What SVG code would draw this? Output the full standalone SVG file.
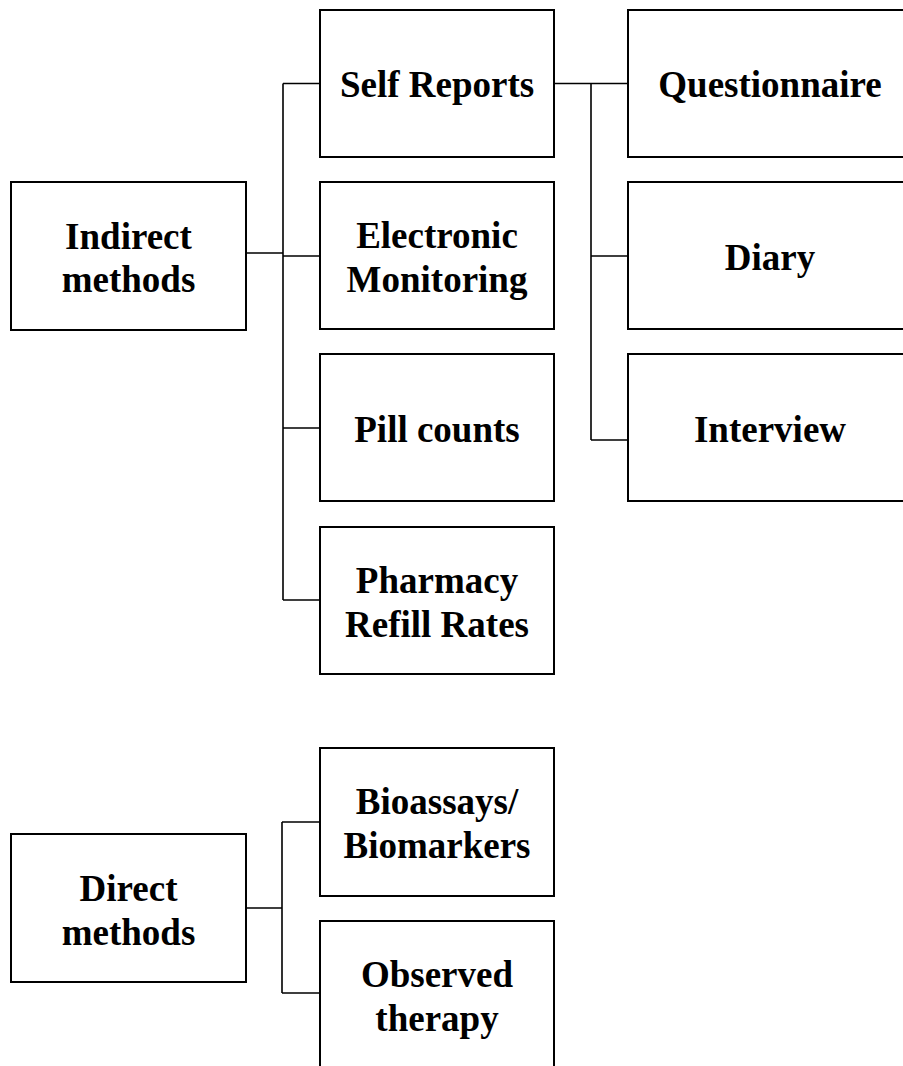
<svg xmlns="http://www.w3.org/2000/svg" width="903" height="1066" viewBox="0 0 903 1066">
<style>
.box{fill:#fff;stroke:#000;stroke-width:2}
.t{font-family:"Liberation Serif","Times New Roman",serif;font-weight:bold;font-size:37px;fill:#000;text-anchor:middle}
.c{fill:none;stroke:#000;stroke-width:1.6}
</style>
<rect width="903" height="1066" fill="#fff"/>
<g id="connectors">
<path class="c" d="M246 253H283M283 83.5V600M283 83.5H320M283 256H320M283 428H320M283 600H320"/>
<path class="c" d="M554 83.5H628M591 83.5V440M591 256H628M591 440H628"/>
<path class="c" d="M246 908H282M282 822V993M282 822H320M282 993H320"/>
</g>
<g id="indirect"><rect class="box" x="11" y="182" width="235" height="148"/><text class="t" x="128.5" y="249">Indirect</text><text class="t" x="128.5" y="292">methods</text></g>
<g id="self-reports"><rect class="box" x="320" y="10" width="234" height="147"/><text class="t" x="437" y="97">Self Reports</text></g>
<g id="electronic"><rect class="box" x="320" y="182" width="234" height="147"/><text class="t" x="437" y="248">Electronic</text><text class="t" x="437" y="292">Monitoring</text></g>
<g id="pill"><rect class="box" x="320" y="354" width="234" height="147"/><text class="t" x="437" y="442">Pill counts</text></g>
<g id="pharmacy"><rect class="box" x="320" y="527" width="234" height="147"/><text class="t" x="437" y="593">Pharmacy</text><text class="t" x="437" y="637">Refill Rates</text></g>
<g id="questionnaire"><rect class="box" x="628" y="10" width="284" height="147"/><text class="t" x="770" y="97">Questionnaire</text></g>
<g id="diary"><rect class="box" x="628" y="182" width="284" height="147"/><text class="t" x="770" y="270">Diary</text></g>
<g id="interview"><rect class="box" x="628" y="354" width="284" height="147"/><text class="t" x="770" y="442">Interview</text></g>
<g id="direct"><rect class="box" x="11" y="834" width="235" height="148"/><text class="t" x="128.5" y="901">Direct</text><text class="t" x="128.5" y="945">methods</text></g>
<g id="bioassays"><rect class="box" x="320" y="748" width="234" height="148"/><text class="t" x="437" y="814">Bioassays/</text><text class="t" x="437" y="858">Biomarkers</text></g>
<g id="observed"><rect class="box" x="320" y="921" width="234" height="160"/><text class="t" x="437" y="987">Observed</text><text class="t" x="437" y="1031">therapy</text></g>
</svg>
